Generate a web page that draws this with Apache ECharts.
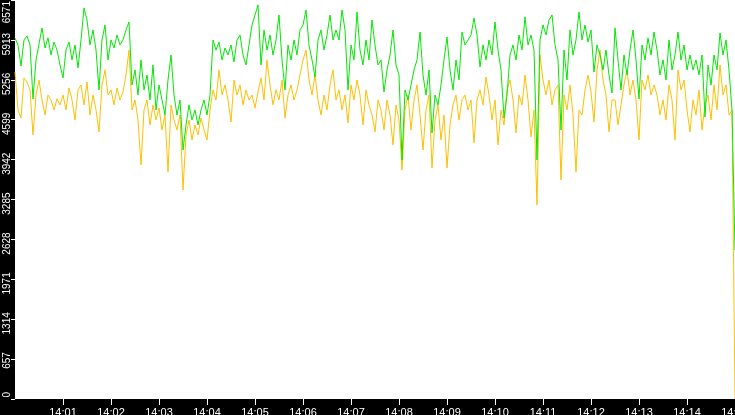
<!DOCTYPE html>
<html>
<head>
<meta charset="utf-8">
<script src="https://cdn.jsdelivr.net/npm/echarts@6/dist/echarts.min.js"></script>
<style>
html,body{margin:0;padding:0;background:#000;}
#chart{width:735px;height:415px;}
</style>
</head>
<body>
<div id="chart"></div>
<script>
// Time span: 14:00:00 to 14:15:00, in seconds from 14:00:00
const spanSeconds = 900;

const greenValues = [
  5946,5830,5485,5913,5979,5830,4942,5584,5847,6110,5781,5946,5666,5880,5748,5501,
  5287,5748,5880,5584,5830,5452,5913,6440,6242,5830,6077,5748,5090,5913,6160,5584,5913,5781,5995,5830,5913,6077,6209,
  5172,5419,5007,5584,5090,5336,4925,5501,4760,5172,4925,4678,5254,5666,5007,4678,4925,4101,4513,4843,4596,4760,4513,
  4760,4925,4678,5007,5913,5748,5880,5584,5781,5666,5830,5551,5913,5995,5666,5501,5830,6160,6324,6489,5501,6077,5748,
  5995,5666,5913,6324,5584,5090,5830,5584,5913,5666,6077,6160,6407,5830,5584,5303,5913,6077,5748,5995,6324,5913,6077,
  5913,6407,6077,5090,5830,5584,6374,5748,5501,5913,5584,6242,5830,5501,5584,5057,5419,5666,6077,5501,5336,3937,5090,
  4925,5172,5419,5584,6044,5336,5007,5419,4381,5007,4843,5172,5584,5962,5419,5090,5584,5254,6044,5830,5913,5995,6275,
  5995,5468,5830,5584,5913,5666,6209,5748,5419,4628,5007,5666,5830,5584,5995,5748,6291,5830,5995,5748,3937,5913,6160,
  5995,6242,6324,5830,5584,4431,5748,5254,6077,5666,5913,6374,5913,6160,5880,6077,5386,5830,5666,5419,5748,5336,5040,
  6110,5584,5090,5666,5336,5748,6077,5584,4942,5830,5584,5946,5666,6044,5748,5336,5584,5254,5913,5419,5666,6044,5584,
  5830,5419,5666,5419,5584,5336,5666,4645,5501,5172,5666,5419,6028,5666,5913,5419,4760,2454
];

// Lower (orange) series, same sampling
const orangeValues = [
  5386,4760,4628,5287,5221,5090,4348,5007,5254,4925,4678,5007,4925,4760,4942,4843,
  5007,4760,5122,4925,4596,5090,5172,4843,5221,4678,5007,4760,4398,5172,5419,5007,5090,4843,5122,4925,5057,5336,5748,
  4760,4925,4596,3854,4760,4925,4513,4843,4596,4793,4431,4678,3739,4843,4596,4431,4678,3442,4348,4596,4266,4513,4348,
  4628,4431,4266,4760,5090,4925,5419,5007,5172,4925,4562,5254,5007,5172,4843,5090,4925,5007,4793,5057,5287,4925,5584,
  5172,4843,5090,4925,5254,4628,5007,5172,4925,5090,5336,5584,5748,5254,5007,5336,4925,4678,5007,4760,5172,5419,4925,
  5090,4760,5007,4546,5172,4925,5254,5007,4513,5090,4843,4678,4398,4925,4760,4431,4925,4678,4184,4843,4596,3772,4760,
  5007,4431,4925,5172,4678,4101,4760,5007,3805,4596,4843,4266,4678,3805,4513,4843,5007,4596,4925,5007,4760,4925,4217,
  4925,5090,4843,5303,5007,4596,4925,4184,4760,4513,5090,5254,4925,4381,5007,4843,5336,4925,4315,4760,3195,5666,5254,
  5007,5254,4843,5090,5172,3607,5007,4760,5172,4678,3739,4760,4678,5090,5336,5057,4562,5419,5748,5254,5007,4398,4925,
  4925,4513,4843,5172,5419,5007,5254,4925,4266,5254,5090,5336,5007,5172,5007,4678,4925,4596,5172,4925,4266,5419,5090,
  5254,4760,4398,4925,4678,5090,4431,4843,5007,4596,5172,4760,5501,5007,5172,4678,4760,0
];

// Axis ticks and labels
const yTickValues = [0,657.1,1314.2,1971.3,2628.4,3285.5,3942.6,4599.7,5256.8,5913.9,6571];
const yTickLabels = ['0','657','1314','1971','2628','3285','3942','4599','5256','5913','6571'];
const xTickSeconds = [60,120,180,240,300,360,420,480,540,600,660,720,780,840,900];
const xTickLabels = ['14:01','14:02','14:03','14:04','14:05','14:06','14:07','14:08','14:09','14:10','14:11','14:12','14:13','14:14','14:15'];

// the top label is kept inside the chart, so it is anchored a little lower than its tick
const yLabelAnchors = yTickValues.map((v, i) => i === yTickValues.length - 1 ? v - 132 : v);

function toPairs(values) {
  const n = values.length;
  return values.map((v, i) => [i * spanSeconds / (n - 1), v]);
}

const chart = echarts.init(document.getElementById('chart'), null, {renderer: 'canvas'});
chart.setOption({
  animation: false,
  backgroundColor: '#000',
  grid: {
    left: 15, right: 0, top: 0, bottom: 16,
    outerBoundsMode: 'none',
    containLabel: false,
    show: true, backgroundColor: '#fff', borderWidth: 0
  },
  xAxis: {
    type: 'value',
    min: 0, max: spanSeconds, interval: 60,
    axisLine: {show: false},
    splitLine: {show: false},
    axisTick: {
      show: true, length: 6, inside: false,
      lineStyle: {color: '#fff', width: 1},
      customValues: xTickSeconds
    },
    axisLabel: {
      color: '#fff',
      fontFamily: 'Liberation Sans',
      fontSize: 11,
      margin: 8,
      hideOverlap: false,
      customValues: xTickSeconds,
      formatter: function (v) {
        const idx = xTickSeconds.indexOf(Math.round(v));
        return idx >= 0 ? xTickLabels[idx] : '';
      }
    }
  },
  yAxis: {
    type: 'value',
    min: 0, max: 6571,
    axisLine: {show: false},
    splitLine: {show: false},
    axisTick: {
      show: true, length: 4, inside: false,
      lineStyle: {color: '#fff', width: 1},
      customValues: yTickValues
    },
    axisLabel: {
      color: '#fff',
      fontFamily: 'Liberation Sans',
      fontSize: 10,
      rotate: 90,
      align: 'right',
      verticalAlign: 'bottom',
      margin: 3,
      padding: [0, -7, 0, 0],
      hideOverlap: false,
      customValues: yLabelAnchors,
      formatter: function (v) {
        let best = 0, bd = Infinity;
        yLabelAnchors.forEach((t, i) => { const d = Math.abs(t - v); if (d < bd) { bd = d; best = i; } });
        return yTickLabels[best];
      }
    }
  },
  series: [
    {
      name: 'lower',
      type: 'line',
      data: toPairs(orangeValues),
      showSymbol: false,
      symbol: 'none',
      lineStyle: {color: '#ffbf00', width: 1},
      itemStyle: {color: '#ffbf00'},
      z: 2
    },
    {
      name: 'upper',
      type: 'line',
      data: toPairs(greenValues),
      showSymbol: false,
      symbol: 'none',
      lineStyle: {color: '#00e800', width: 1},
      itemStyle: {color: '#00e800'},
      z: 3
    }
  ]
});
</script>
</body>
</html>
